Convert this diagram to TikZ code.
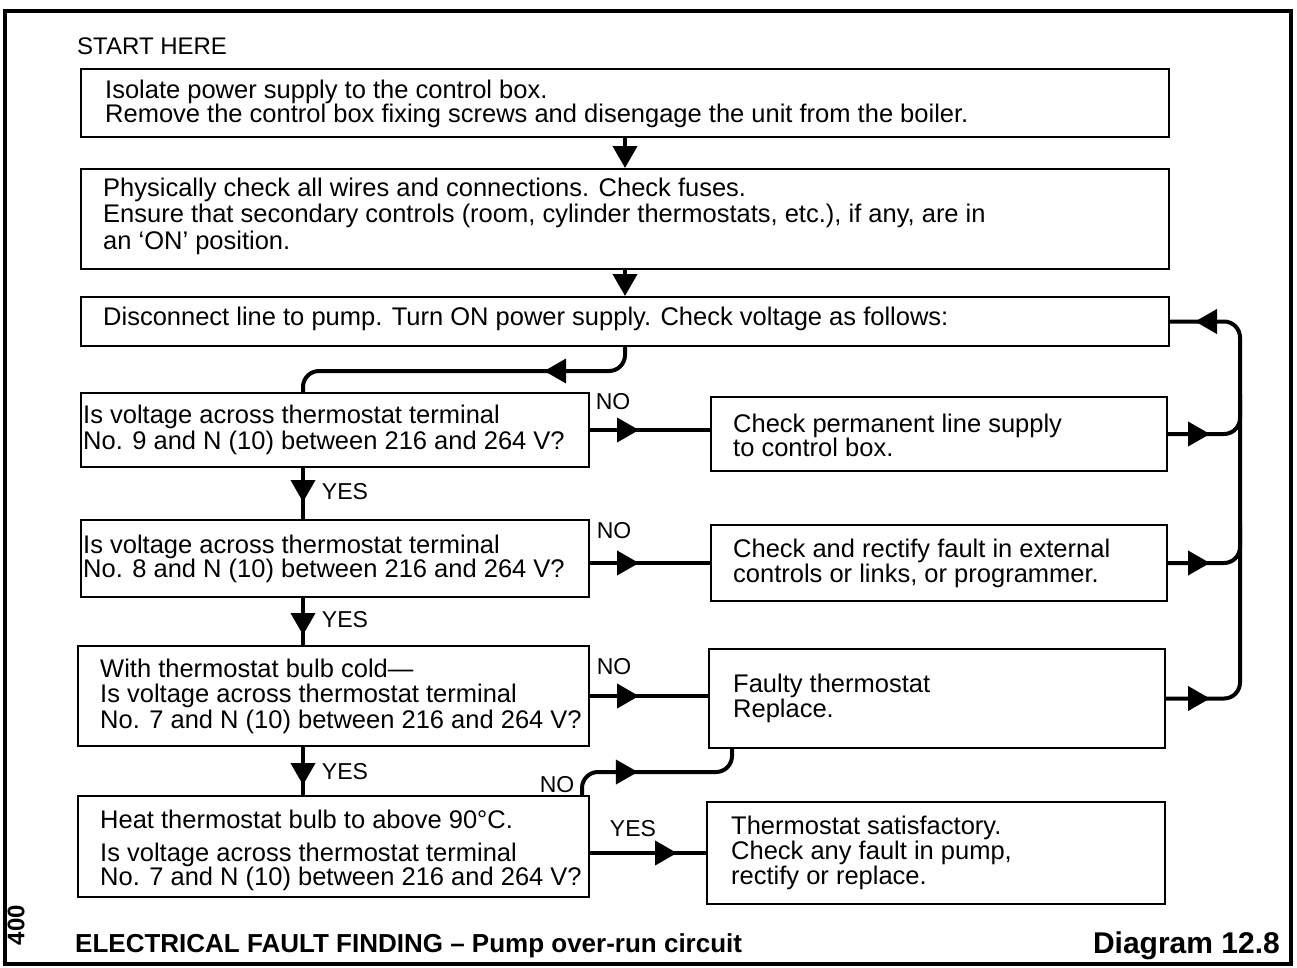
\documentclass[tikz,border=0pt]{standalone}
\usepackage{fontspec}
\setmainfont{Liberation Sans}
\usetikzlibrary{arrows.meta,calc,decorations.markings}
\begin{document}
\begin{tikzpicture}[x=1pt,y=-1pt,
  box/.style={draw, line width=2pt, rectangle, anchor=north west, inner sep=0pt},
  txt/.style={anchor=west, align=left, inner sep=0pt, font=\fontsize{25.5}{#1}\selectfont},
  lbl/.style={inner sep=0pt, font=\fontsize{23}{23}\selectfont},
  flow/.style={line width=4pt, rounded corners=16pt},
  midarrow/.style={postaction={decorate, decoration={markings, mark=at position #1 with {\arrow{Triangle[length=22pt,width=24pt]}}}}},
  endarrow/.style={-{Triangle[length=22pt,width=24pt]}}
]
\useasboundingbox (0,0) rectangle (1297,967);
\fill[white] (0,0) rectangle (1297,967);
\draw[line width=4pt] (5,11) rectangle (1291,964);

\coordinate (rail) at (1240,0);
\coordinate (spine) at (303,0);

\node[anchor=west, inner sep=0pt, font=\fontsize{24}{24}\selectfont] (start) at (77,46) {START HERE};

\node[box, minimum width=1088pt, minimum height=68pt] (b1) at (80,68) {};
\node[box, minimum width=1088pt, minimum height=100pt] (b2) at (80,168) {};
\node[box, minimum width=1088pt, minimum height=49pt] (b3) at (80,296) {};
\node[box, minimum width=508pt, minimum height=74pt] (b4) at (80,392) {};
\node[box, minimum width=456pt, minimum height=74pt] (b5) at (710,396) {};
\node[box, minimum width=508pt, minimum height=77pt] (b6) at (80,519) {};
\node[box, minimum width=456pt, minimum height=76pt] (b7) at (710,524) {};
\node[box, minimum width=511pt, minimum height=100pt] (b8) at (77,645) {};
\node[box, minimum width=456pt, minimum height=99pt] (b9) at (708,648) {};
\node[box, minimum width=511pt, minimum height=101pt] (b10) at (77,795) {};
\node[box, minimum width=458pt, minimum height=102pt] (b11) at (706,801) {};

\node[txt=22] (t1) at ($(b1.west)+(25,1)$) {Isolate power supply to the control box.\\Remove the control box fixing screws and disengage the unit from the boiler.};
\node[txt=26.5] (t2) at ($(b2.west)+(23,-3)$) {Physically check all wires and connections. Check fuses.\\Ensure that secondary controls (room, cylinder thermostats, etc.), if any, are in\\an ‘ON’ position.};
\node[txt=25] (t3) at ($(b3.west)+(23,-2.5)$) {Disconnect line to pump. Turn ON power supply. Check voltage as follows:};
\node[txt=26] (t4) at ($(b4.west)+(3,0)$) {Is voltage across thermostat terminal\\No. 9 and N (10) between 216 and 264 V?};
\node[txt=24] (t5) at ($(b5.west)+(23,1)$) {Check permanent line supply\\to control box.};
\node[txt=24] (t6) at ($(b6.west)+(3,0)$) {Is voltage across thermostat terminal\\No. 8 and N (10) between 216 and 264 V?};
\node[txt=25] (t7) at ($(b7.west)+(23,0)$) {Check and rectify fault in external\\controls or links, or programmer.};
\node[txt=25.5] (t8) at ($(b8.west)+(23,0)$) {With thermostat bulb cold—\\Is voltage across thermostat terminal\\No. 7 and N (10) between 216 and 264 V?};
\node[txt=25] (t9) at ($(b9.west)+(25,0)$) {Faulty thermostat\\Replace.};
\node[txt=24] (t10) at ($(b10.west)+(23,3.5)$) {Heat thermostat bulb to above 90°C.\\[9pt]Is voltage across thermostat terminal\\No. 7 and N (10) between 216 and 264 V?};
\node[txt=25] (t11) at ($(b11.west)+(25,0)$) {Thermostat satisfactory.\\Check any fault in pump,\\rectify or replace.};

% main chain
\draw[flow, endarrow] (b1.south) -- (b2.north);
\draw[flow, endarrow] (b2.south) -- (b3.north);
\draw[flow, midarrow=98pt] (b3.south) -- ++(0,24) -| (b4.north -| spine);
\draw[flow, midarrow=34pt] (b4.south -| spine) -- (b6.north -| spine);
\draw[flow, midarrow=37pt] (b6.south -| spine) -- (b8.north -| spine);
\draw[flow, midarrow=38pt] (b8.south -| spine) -- (b10.north -| spine);

% NO branches
\draw[flow, midarrow=49pt] (b4.east) -- (b4.east -| b5.west);
\draw[flow, midarrow=49pt] (b6.east |- b7.west) -- (b7.west);
\draw[flow, midarrow=49pt] (b8.east) -- (b8.east -| b9.west);
\draw[flow, midarrow=72pt] ($(b10.north east)+(-8,0)$) -- ++(0,-23) -| ($(b9.south west)+(24,0)$);
\draw[flow, midarrow=87pt] (b10.east |- b11.west) -- (b11.west);

% return rail
\draw[flow, midarrow=44pt, midarrow=-25pt] (b9.east) -- (b9.east -| rail) -- (b3.east -| rail) -- (b3.east);
\draw[flow, midarrow=42pt] (b5.east) -- (b5.east -| rail) -- ++(0,-40);
\draw[flow, midarrow=42pt] (b7.east) -- (b7.east -| rail) -- ++(0,-40);

% labels
\node[lbl] (n1) at (613,402) {NO};
\node[lbl] (n2) at (614,531) {NO};
\node[lbl] (n3) at (614,667) {NO};
\node[lbl] (n4) at (557,785) {NO};
\node[lbl] (y1) at (345,492) {YES};
\node[lbl] (y2) at (345,620) {YES};
\node[lbl] (y3) at (345,772) {YES};
\node[lbl] (y4) at (633,829) {YES};

% footer
\node[anchor=base west, inner sep=0pt, font=\bfseries\fontsize{26}{26}\selectfont] (title) at (75,952) {ELECTRICAL FAULT FINDING – Pump over-run circuit};
\node[anchor=base east, inner sep=0pt, font=\bfseries\fontsize{30}{30}\selectfont] (diag) at (1280,953) {Diagram 12.8};
\node[rotate=90, inner sep=0pt, font=\bfseries\fontsize{24}{24}\selectfont] (page) at (16,925) {400};
\end{tikzpicture}
\end{document}
